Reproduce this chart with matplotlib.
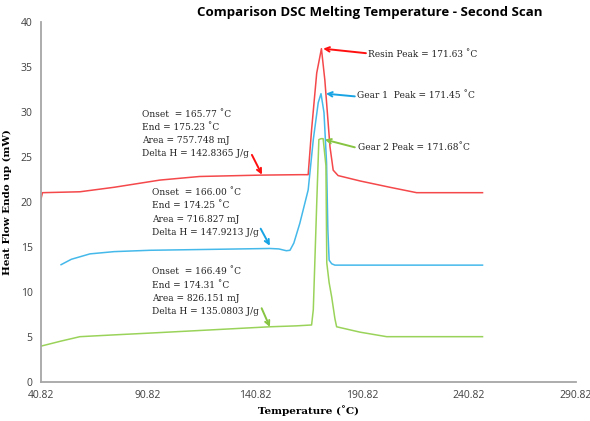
import numpy as np
import matplotlib.pyplot as plt

# DSC traces (temperature in C, heat flow in mW)
resin_t = [40.82, 41.5, 59.0, 75.0, 96.4, 115.0, 143.0, 161.8, 165.7, 167.3, 169.7, 171.9,
           173.5, 175.9, 177.4, 179.7, 190.0, 203.9, 216.4, 247.2]
resin_v = [20.3, 21.0, 21.1, 21.6, 22.4, 22.8, 22.95, 23.0, 23.0, 28.0, 34.3, 37.0,
           33.5, 26.1, 23.5, 22.9, 22.3, 21.6, 21.0, 21.0]

gear1_t = [50.2, 55.0, 63.7, 75.0, 91.8, 120.0, 147.8, 152.0, 155.5, 157.2, 159.0, 161.8,
           165.7, 168.1, 170.4, 171.7, 173.1, 174.3, 174.9, 175.5, 176.7, 178.2, 247.2]
gear1_v = [13.0, 13.6, 14.2, 14.45, 14.6, 14.7, 14.8, 14.75, 14.55, 14.6, 15.4, 17.6,
           21.3, 26.9, 31.0, 32.0, 29.9, 24.3, 16.9, 13.5, 13.1, 12.95, 12.95]

gear2_t = [40.82, 50.0, 59.0, 75.0, 91.8, 120.0, 147.8, 160.0, 167.3, 168.1, 169.7, 170.7,
           171.7, 172.7, 174.0, 174.4, 175.5, 176.7, 178.2, 179.0, 190.0, 202.4, 247.2]
gear2_v = [3.95, 4.5, 5.0, 5.2, 5.4, 5.75, 6.1, 6.2, 6.3, 8.0, 19.8, 26.9,
           27.0, 27.0, 24.0, 13.2, 11.0, 9.4, 7.0, 6.1, 5.5, 5.0, 5.0]

x_ticks = [40.82, 90.82, 140.82, 190.82, 240.82, 290.82]
y_ticks = [0, 5, 10, 15, 20, 25, 30, 35, 40]

red_line, red_arrow = '#f4484b', '#ff1010'
blue_line, blue_arrow = '#45b9ea', '#18a4e4'
green_line, green_arrow = '#9ad35a', '#86c441'

fig = plt.figure(figsize=(5.9, 4.21), dpi=100)
ax = fig.add_axes([0.0695, 0.0934, 0.9065, 0.8551])

ax.plot(resin_t, resin_v, color=red_line, lw=1.1)
ax.plot(gear1_t, gear1_v, color=blue_line, lw=1.1)
ax.plot(gear2_t, gear2_v, color=green_line, lw=1.1)

ax.set_xlim(40.82, 290.82)
ax.set_ylim(0, 40)
ax.set_xticks(x_ticks)
ax.set_xticklabels(['%.2f' % t for t in x_ticks])
ax.set_yticks(y_ticks)
ax.tick_params(length=0, labelsize=7.5, colors='#404040', pad=6)
for lab in ax.get_xticklabels() + ax.get_yticklabels():
    lab.set_family('Open Sans')
for s in ['top', 'right']:
    ax.spines[s].set_visible(False)
for s in ['left', 'bottom']:
    ax.spines[s].set_color('#a6a6a6')
    ax.spines[s].set_linewidth(1.3)

ax.set_xlabel('Temperature (˚C)', family='DejaVu Serif', fontweight='bold', fontsize=7.5, labelpad=3)
ax.set_ylabel('Heat Flow Endo up (mW)', family='DejaVu Serif', fontweight='bold', fontsize=7.5)
ax.yaxis.set_label_coords(-0.055, 0.5)
fig.text(0.627, 0.971, 'Comparison DSC Melting Temperature - Second Scan', ha='center', va='center',
         family='Open Sans', fontweight='bold', fontsize=9.5)

# onset / end annotation blocks
txt = dict(family='DejaVu Serif', fontsize=6.5, va='center', ha='left', linespacing=1.6, color='#222222')
ax.text(87.9, 27.5, 'Onset  = 165.77 ˚C\nEnd = 175.23 ˚C\nArea = 757.748 mJ\nDelta H = 142.8365 J/g', **txt)
ax.text(92.5, 18.8, 'Onset  = 166.00 ˚C\nEnd = 174.25 ˚C\nArea = 716.827 mJ\nDelta H = 147.9213 J/g', **txt)
ax.text(92.5, 10.0, 'Onset  = 166.49 ˚C\nEnd = 174.31 ˚C\nArea = 826.151 mJ\nDelta H = 135.0803 J/g', **txt)

ax.text(193.8, 36.3, 'Resin Peak = 171.63 ˚C', **txt)
ax.text(188.3, 31.8, 'Gear 1  Peak = 171.45 ˚C', **txt)
ax.text(189.1, 26.0, 'Gear 2 Peak = 171.68˚C', **txt)

def arrow(tail, head, color):
    ax.annotate('', xy=head, xytext=tail,
                arrowprops=dict(arrowstyle='->', color=color, lw=1.4, shrinkA=0, shrinkB=0,
                                mutation_scale=8))

arrow((139.4, 25.2), (144.1, 23.0), red_arrow)
arrow((143.5, 17.0), (147.8, 15.1), blue_arrow)
arrow((143.95, 8.16), (147.8, 6.08), green_arrow)
arrow((192.7, 36.5), (172.7, 37.0), red_arrow)
arrow((187.5, 31.7), (174.0, 32.0), blue_arrow)
arrow((187.5, 26.04), (173.5, 26.9), green_arrow)

fig.savefig('out.png', dpi=100)
